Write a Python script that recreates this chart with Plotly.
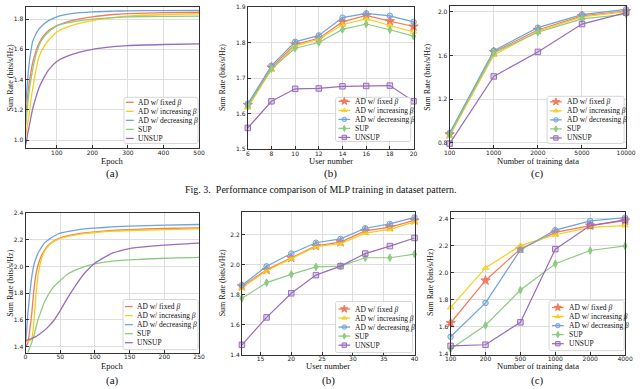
#Recreation of Fig. 3 style panels: sum rate vs epoch / users / training data
import numpy as np
import plotly.graph_objects as go

# Series names and styles
names = ['AD w/ fixed <i>β</i>', 'AD w/ increasing <i>β</i>', 'AD w/ decreasing <i>β</i>', 'SUP', 'UNSUP']
colors = ['#F47A5C', '#F8CD1C', '#6FA3DB', '#8CCB80', '#9A6CBC']
fills = ['#F47A5C', 'rgba(248,205,28,0.35)', 'rgba(111,163,219,0.35)', '#8CCB80', 'rgba(154,108,188,0.3)']
symbols = ['star', 'triangle-up', 'circle', 'diamond-tall', 'square']

# Top row (a): sum rate vs epoch
epoch_top = [13, 18, 23, 28, 32, 41, 50, 63, 77, 100, 141, 200, 259, 300, 400, 500]
fixed_top_a = [1.16, 1.29, 1.39, 1.46, 1.51, 1.585, 1.64, 1.69, 1.725, 1.757, 1.79, 1.815, 1.83, 1.836, 1.842, 1.845]
incr_top_a = [1.03, 1.11, 1.18, 1.28, 1.335, 1.46, 1.55, 1.615, 1.66, 1.715, 1.757, 1.79, 1.81, 1.82, 1.83, 1.835]
decr_top_a = [1.25, 1.40, 1.52, 1.60, 1.65, 1.70, 1.735, 1.765, 1.79, 1.815, 1.836, 1.848, 1.852, 1.854, 1.856, 1.857]
sup_top_a = [1.10, 1.23, 1.335, 1.41, 1.465, 1.56, 1.625, 1.68, 1.715, 1.755, 1.78, 1.80, 1.81, 1.815, 1.818, 1.82]
unsup_top_a = [0.97, 1.04, 1.10, 1.16, 1.205, 1.28, 1.346, 1.41, 1.465, 1.52, 1.565, 1.60, 1.618, 1.625, 1.632, 1.636]

# Top row (b): sum rate vs user number
users_top = [6, 8, 10, 12, 14, 16, 18, 20]
fixed_top_b = [1.625, 1.730, 1.795, 1.812, 1.858, 1.876, 1.860, 1.845]
incr_top_b = [1.617, 1.724, 1.790, 1.810, 1.850, 1.867, 1.848, 1.830]
decr_top_b = [1.628, 1.735, 1.802, 1.820, 1.870, 1.882, 1.875, 1.858]
sup_top_b = [1.622, 1.727, 1.784, 1.800, 1.837, 1.852, 1.836, 1.818]
unsup_top_b = [1.560, 1.635, 1.670, 1.671, 1.677, 1.678, 1.679, 1.635]

# Top row (c): sum rate vs number of training data
data_top = ['100', '1000', '2000', '5000', '10000']
fixed_top_c = [0.878, 1.634, 1.835, 1.964, 2.009]
incr_top_c = [0.863, 1.604, 1.823, 1.955, 2.003]
decr_top_c = [0.890, 1.646, 1.856, 1.976, 2.024]
sup_top_c = [0.875, 1.625, 1.814, 1.937, 1.979]
unsup_top_c = [0.794, 1.409, 1.634, 1.889, 1.994]

# Bottom row (a): sum rate vs epoch
epoch_bot = [0, 3, 6, 9, 12, 15, 18, 22, 27, 33, 40, 50, 60, 75, 85, 100, 125, 150, 200, 250]
fixed_bot_a = [1.40, 1.42, 1.52, 1.65, 1.82, 1.94, 2.01, 2.07, 2.12, 2.16, 2.19, 2.215, 2.23, 2.245, 2.252, 2.26, 2.27, 2.277, 2.285, 2.29]
incr_bot_a = [1.44, 1.44, 1.445, 1.46, 1.58, 1.78, 1.93, 2.04, 2.11, 2.155, 2.185, 2.21, 2.225, 2.24, 2.247, 2.255, 2.265, 2.27, 2.277, 2.282]
decr_bot_a = [1.40, 1.62, 1.785, 1.92, 2.01, 2.06, 2.10, 2.135, 2.175, 2.20, 2.225, 2.25, 2.262, 2.275, 2.282, 2.288, 2.297, 2.303, 2.31, 2.315]
sup_bot_a = [1.33, 1.35, 1.39, 1.43, 1.48, 1.54, 1.60, 1.66, 1.73, 1.79, 1.845, 1.895, 1.94, 1.98, 2.0, 2.02, 2.04, 2.05, 2.062, 2.068]
unsup_bot_a = [1.445, 1.45, 1.455, 1.46, 1.468, 1.475, 1.485, 1.50, 1.52, 1.55, 1.59, 1.67, 1.76, 1.88, 1.95, 2.025, 2.10, 2.135, 2.16, 2.175]

# Bottom row (b): sum rate vs user number
users_bot = [12, 16, 20, 24, 28, 32, 36, 40]
fixed_bot_b = [1.855, 1.965, 2.045, 2.125, 2.150, 2.225, 2.250, 2.295]
incr_bot_b = [1.845, 1.960, 2.040, 2.120, 2.140, 2.210, 2.235, 2.285]
decr_bot_b = [1.863, 1.989, 2.074, 2.146, 2.172, 2.243, 2.272, 2.315]
sup_bot_b = [1.776, 1.880, 1.935, 1.985, 1.990, 2.046, 2.046, 2.070]
unsup_bot_b = [1.465, 1.648, 1.809, 1.930, 1.990, 2.074, 2.124, 2.178]

# Bottom row (c): sum rate vs number of training data
data_bot = ['100', '200', '500', '1000', '2000', '4000']
fixed_bot_c = [1.629, 1.944, 2.178, 2.300, 2.351, 2.388]
incr_bot_c = [1.744, 2.037, 2.202, 2.283, 2.337, 2.351]
decr_bot_c = [1.527, 1.778, 2.171, 2.317, 2.385, 2.410]
sup_bot_c = [1.437, 1.612, 1.873, 2.068, 2.166, 2.200]
unsup_bot_c = [1.459, 1.468, 1.634, 2.176, 2.351, 2.393]

W, H = 640, 389
SERIF = 'Liberation Serif, Times New Roman, serif'
SANS = 'DejaVu Sans, sans-serif'


def marker_style(i, scale=1.0):
    size = (7 if symbols[i] == 'star' else 5.5) * scale
    return dict(symbol=symbols[i], size=size, color=fills[i], line=dict(color=colors[i], width=1))


def rounded_box(x0, x1, y0, y1, r):
    # outline of a rounded rectangle (pixel units), used for legend frames
    xs, ys = [], []
    corners = [(x1 - r, y0 + r, -90, 0), (x1 - r, y1 - r, 0, 90),
               (x0 + r, y1 - r, 90, 180), (x0 + r, y0 + r, 180, 270)]
    for cx, cy, a0, a1 in corners:
        for a in np.radians(np.linspace(a0, a1, 5)):
            xs.append(cx + r * np.cos(a))
            ys.append(cy + r * np.sin(a))
    xs.append(xs[0])
    ys.append(ys[0])
    return xs, ys


def add_panel(fig, idx, x, series, markers, box, xcfg, ycfg):
    xa, ya = 'x%d' % idx, 'y%d' % idx
    for i, yv in enumerate(series):
        tr = dict(x=x, y=yv, xaxis=xa, yaxis=ya, showlegend=False, hoverinfo='skip', cliponaxis=not markers)
        if markers:
            tr.update(mode='lines+markers', line=dict(color=colors[i], width=1.2), marker=marker_style(i))
        else:
            tr.update(mode='lines', line=dict(color=colors[i], width=1.3, shape='spline', smoothing=0.6))
        fig.add_trace(go.Scatter(**tr))

    x0, x1, y0, y1 = box
    key_x = 'xaxis' if idx == 1 else 'xaxis%d' % idx
    key_y = 'yaxis' if idx == 1 else 'yaxis%d' % idx
    common = dict(showline=True, mirror=True, linecolor='#333333', linewidth=1,
                  showgrid=True, gridcolor='#dedede', gridwidth=0.8, zeroline=False,
                  ticks='inside', ticklen=3, tickcolor='#333333',
                  tickfont=dict(family=SANS, size=6, color='#222222'), fixedrange=True)
    fig.update_layout({key_x: dict(domain=[x0 / W, x1 / W], anchor=ya, ticklabelstandoff=-2, **common, **xcfg),
                       key_y: dict(domain=[1 - y1 / H, 1 - y0 / H], anchor=xa, tickformat='.1f', **common, **ycfg)})


def add_legend(fig, box, markers):
    # compact matplotlib-like legend drawn on the pixel overlay axes
    x0, x1, y0, y1 = box
    bx, by = rounded_box(x0, x1, y0, y1, 2)
    fig.add_trace(go.Scatter(x=bx, y=by, xaxis='x7', yaxis='y7', mode='lines', fill='toself',
                             fillcolor='rgba(255,255,255,0.9)', line=dict(color='#cccccc', width=0.8),
                             hoverinfo='skip', showlegend=False))
    step = 9.2
    top = (y0 + y1) / 2 - 2 * step
    for i in range(5):
        yy = top + i * step
        if markers:
            lx0, lx1, tx = x0 + 3, x0 + 15, x0 + 18
        else:
            lx0, lx1, tx = x0 + 2, x0 + 10, x0 + 12
        fig.add_trace(go.Scatter(x=[lx0, lx1], y=[yy, yy], xaxis='x7', yaxis='y7', mode='lines',
                                 line=dict(color=colors[i], width=1.3), hoverinfo='skip', showlegend=False))
        if markers:
            fig.add_trace(go.Scatter(x=[(lx0 + lx1) / 2], y=[yy], xaxis='x7', yaxis='y7', mode='markers',
                                     marker=marker_style(i, 0.8), hoverinfo='skip', showlegend=False))
        fig.add_annotation(x=tx, y=yy, xref='x7', yref='y7', text=names[i], showarrow=False,
                           xanchor='left', yanchor='middle', font=dict(family=SERIF, size=7.5, color='#111111'))


def add_text(fig, x, y, text, size, angle=0):
    fig.add_annotation(x=x, y=y, xref='x7', yref='y7', text=text, showarrow=False, textangle=angle,
                       xanchor='center', yanchor='middle', font=dict(family=SERIF, size=size, color='#111111'))


def main():
    fig = go.Figure()

    # pixel boxes (x0, x1, y0, y1) of each plot frame
    boxes = {1: (20, 198, 3, 147), 2: (248, 418, 3, 148), 3: (455, 636, 2, 147),
             4: (20, 198, 213, 355), 5: (242, 419, 212, 357), 6: (456, 635, 212, 357)}

    add_panel(fig, 1, epoch_top, [fixed_top_a, incr_top_a, decr_top_a, sup_top_a, unsup_top_a], False, boxes[1],
              dict(range=[12, 500], tick0=0, dtick=100), dict(range=[0.946, 1.88], tick0=0, dtick=0.2))
    add_panel(fig, 2, users_top, [fixed_top_b, incr_top_b, decr_top_b, sup_top_b, unsup_top_b], True, boxes[2],
              dict(range=[6, 20], tick0=6, dtick=2), dict(range=[1.5, 1.9], tick0=1.5, dtick=0.1))
    add_panel(fig, 3, data_top, [fixed_top_c, incr_top_c, decr_top_c, sup_top_c, unsup_top_c], True, boxes[3],
              dict(type='category', range=[0, 4]), dict(range=[0.75, 2.055], tick0=0.8, dtick=0.4))
    add_panel(fig, 4, epoch_bot, [fixed_bot_a, incr_bot_a, decr_bot_a, sup_bot_a, unsup_bot_a], False, boxes[4],
              dict(range=[0, 250], tick0=0, dtick=50), dict(range=[1.355, 2.4], tick0=1.4, dtick=0.2))
    add_panel(fig, 5, users_bot, [fixed_bot_b, incr_bot_b, decr_bot_b, sup_bot_b, unsup_bot_b], True, boxes[5],
              dict(range=[12, 40], tick0=0, dtick=5), dict(range=[1.4, 2.35], tick0=1.4, dtick=0.2))
    add_panel(fig, 6, data_bot, [fixed_bot_c, incr_bot_c, decr_bot_c, sup_bot_c, unsup_bot_c], True, boxes[6],
              dict(type='category', range=[0, 5]), dict(range=[1.395, 2.45], tick0=1.4, dtick=0.2))

    # overlay axes in pixel units for legends and texts
    fig.update_layout(
        xaxis7=dict(domain=[0, 1], range=[0, W], visible=False, fixedrange=True, anchor='y7'),
        yaxis7=dict(domain=[0, 1], range=[H, 0], visible=False, fixedrange=True, anchor='x7'),
    )

    legend_boxes = [(121, 197, 95, 142, False), (338, 415, 95, 140, True), (555, 634, 94, 142, True),
                    (120, 197, 301, 352, False), (338, 417, 303, 355, True), (557, 634, 302, 353, True)]
    for x0, x1, y0, y1, mk in legend_boxes:
        add_legend(fig, (x0, x1, y0, y1), mk)

    # axis titles and panel labels
    xtitles = ['Epoch', 'User number', 'Number of training data']
    for row, (ty, ly) in enumerate([(160, 173), (369, 383)]):
        for col in range(3):
            x0, x1 = boxes[row * 3 + col + 1][:2]
            add_text(fig, (x0 + x1) / 2, ty, xtitles[col], 8.5)
            add_text(fig, (x0 + x1) / 2, ly, '(%s)' % 'abc'[col], 11)
    for x, y in [(5, 75), (222, 75), (432, 75), (5, 284), (222, 284), (436, 284)]:
        add_text(fig, x, y, 'Sum Rate (bits/s/Hz)', 8, angle=-90)

    add_text(fig, 323, 189, 'Fig. 3.  Performance comparison of MLP training in dataset pattern.', 10)

    fig.update_layout(width=W, height=H, margin=dict(l=0, r=0, t=0, b=0),
                      paper_bgcolor='white', plot_bgcolor='rgba(0,0,0,0)', showlegend=False)
    # drop the default 8px page margin so the figure fills the window
    fig.write_html("out.html", config={'displayModeBar': False},
                   post_script="document.body.style.margin='0';")


# Run the script
if __name__ == "__main__":
    main()
